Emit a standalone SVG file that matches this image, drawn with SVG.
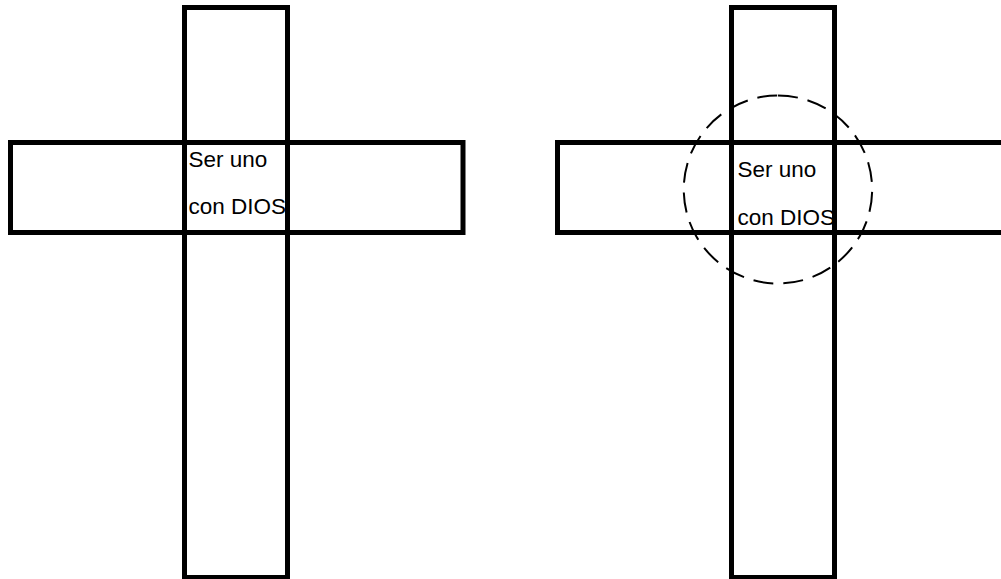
<svg xmlns="http://www.w3.org/2000/svg" width="1001" height="579" viewBox="0 0 1001 579">
<style>
.bar{fill:none;stroke:#000;stroke-width:5}
.lbl{font-family:"Liberation Sans",Arial,sans-serif;font-size:22.5px;fill:#000}
.ring{fill:none;stroke:#000;stroke-width:2;stroke-dasharray:20 10}
</style>
<rect width="1001" height="579" fill="#fff"/>
<g id="cross-left">
<rect class="bar" x="184.5" y="7.5" width="103" height="570"/>
<rect class="bar" x="10.5" y="142.5" width="452.5" height="90"/>
<text class="lbl" x="188.5" y="166.5">Ser uno</text>
<text class="lbl" x="188.5" y="213.5">con DIOS</text>
</g>
<g id="cross-right">
<rect class="bar" x="731.5" y="7.5" width="103" height="570"/>
<rect class="bar" x="557.5" y="142.5" width="452.5" height="90"/>
<text class="lbl" x="737.5" y="176.5">Ser uno</text>
<text class="lbl" x="737.5" y="224.5">con DIOS</text>
</g>
<g id="connectors">
<path class="ring" d="M778,95.5 A94.2,94 0 1 1 777.9,95.5"/>
</g>
</svg>
